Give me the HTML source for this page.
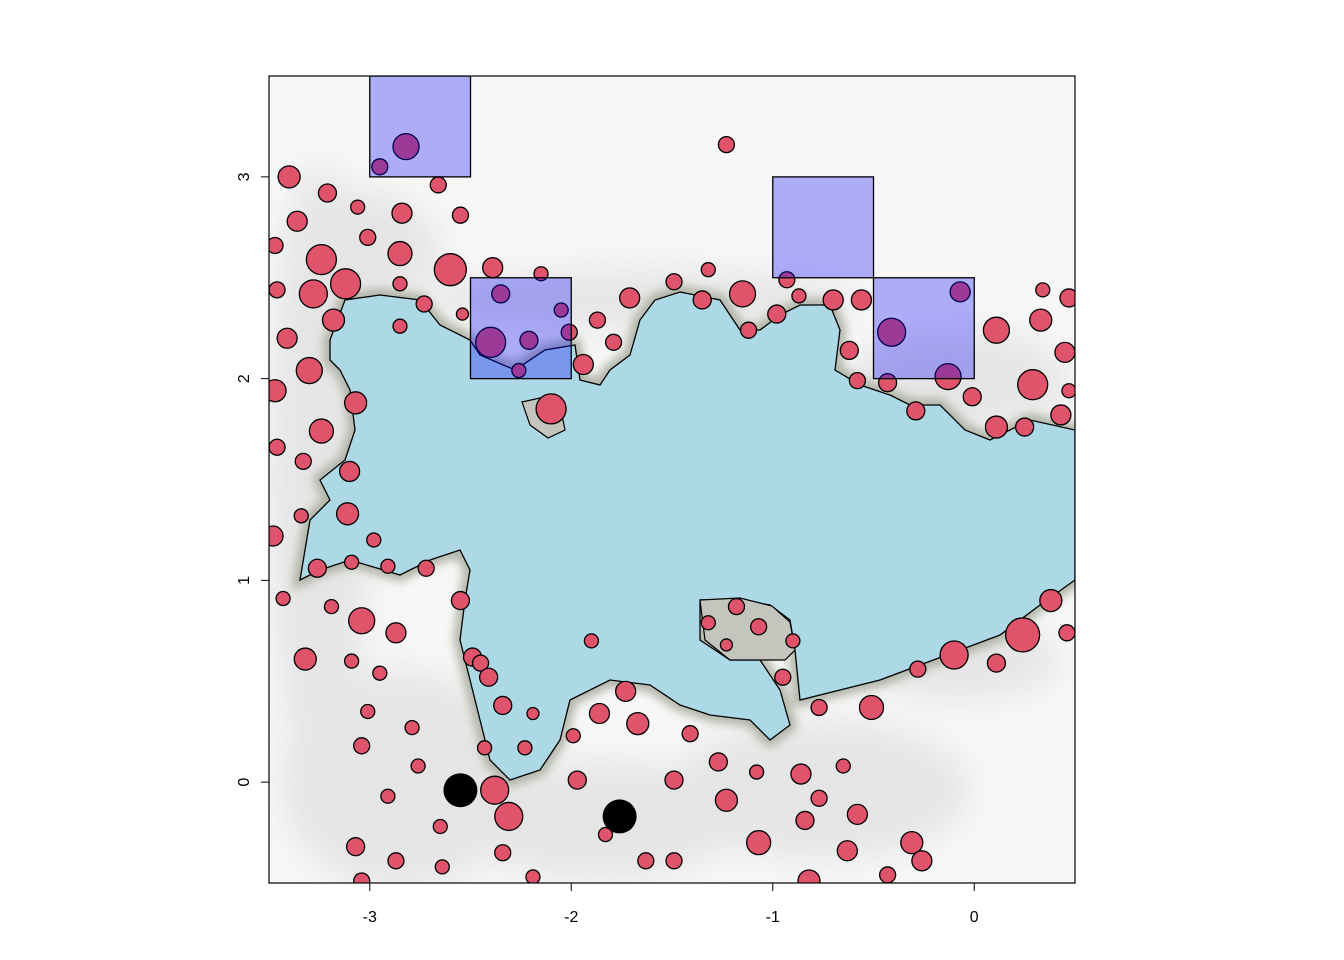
<!DOCTYPE html>
<html><head><meta charset="utf-8">
<style>
html,body{margin:0;padding:0;background:#fff;}
svg{display:block;font-family:"Liberation Sans",sans-serif;}
</style></head>
<body>
<svg id="chart" width="1344" height="960" xmlns="http://www.w3.org/2000/svg">
<defs>
<clipPath id="plotclip"><rect x="269" y="76" width="806" height="807"/></clipPath>
<filter id="blur1" x="-20%" y="-20%" width="140%" height="140%"><feGaussianBlur stdDeviation="16"/></filter>
<filter id="blur2" x="-20%" y="-20%" width="140%" height="140%"><feGaussianBlur stdDeviation="5"/></filter>
</defs>
<rect x="269" y="76" width="806" height="807" fill="#f7f7f7"/>
<g id="terrain" clip-path="url(#plotclip)">
  <g filter="url(#blur1)" fill="#dadada" opacity="0.6">
    <ellipse cx="320" cy="480" rx="50" ry="320"/>
    <ellipse cx="400" cy="780" rx="120" ry="110"/>
    <ellipse cx="600" cy="820" rx="140" ry="60"/>
    <ellipse cx="820" cy="790" rx="150" ry="70"/>
    <ellipse cx="640" cy="300" rx="220" ry="30"/>
    <ellipse cx="960" cy="380" rx="110" ry="50"/>
    <ellipse cx="360" cy="250" rx="80" ry="60"/>
    <ellipse cx="960" cy="660" rx="100" ry="40"/>
  </g>
  <path id="lake-shadow" filter="url(#blur2)" fill="none" stroke="#a9ad9f" stroke-width="12" d=""/>
  <path id="lake" fill="#add8e6" stroke="#000" stroke-width="1.3" d=""/>
  <path d="M522,402 L540,398 L560,405 L565,430 L548,438 L530,425 Z" fill="#c4c6bd" stroke="#000" stroke-width="1.2"/>
  <path d="M700,600 L740,598 L772,606 L790,622 L795,650 L785,660 L760,660 L730,660 L705,640 Z" fill="#c4c6bd" stroke="#000" stroke-width="1.2"/>
  <g id="points"></g>
  <g id="boxes"></g>
</g>
<rect x="269" y="76" width="806" height="807" fill="none" stroke="#000" stroke-width="1.2"/>
<g id="axes"></g>
</svg>
<script>
const xTicks=[-3,-2,-1,0];
const yTicks=[0,1,2,3];
const ptX=[-3.40,-3.21,-3.06,-3.36,-2.84,-2.55,-2.66,-2.95,-2.82,-3.47,-3.01,-2.85,-3.24,-3.12,-2.60,-3.28,-3.46,-2.85,-3.18,-3.41,-2.85,-2.73,-2.54,-2.39,-2.15,-2.35,-2.05,-2.01,-2.40,-2.21,-2.26,-1.94,-1.87,-1.79,-1.71,-2.10,-3.30,-3.07,-3.47,-3.46,-3.24,-3.33,-3.10,-3.34,-3.11,-2.98,-3.48,-3.09,-3.26,-2.91,-2.72,-2.55,-3.43,-3.19,-3.04,-2.87,-3.32,-3.09,-2.95,-2.49,-2.45,-2.41,-2.34,-2.19,-3.01,-2.79,-2.43,-2.23,-1.99,-1.86,-1.73,-1.67,-3.04,-2.76,-2.38,-2.31,-1.97,-1.83,-2.91,-2.65,-1.49,-1.23,-1.27,-1.41,-1.08,-0.86,-0.77,-0.84,-0.65,-0.58,-1.07,-0.63,-0.77,-0.51,-0.31,-0.26,-0.43,-0.82,-1.63,-1.49,-2.19,-2.34,-2.64,-2.87,-3.07,-3.04,-1.23,-1.32,-1.49,-1.35,-1.15,-1.12,-0.98,-0.93,-0.87,-0.70,-0.56,-0.62,-0.41,-0.58,-0.43,-0.29,-0.13,-0.01,0.11,0.25,0.34,0.47,0.33,0.11,0.45,0.29,0.47,0.43,-0.07,0.38,0.24,0.46,0.11,-0.10,-0.28,-1.18,-1.32,-1.07,-1.23,-0.90,-0.95,-1.90];
const ptY=[3.00,2.92,2.85,2.78,2.82,2.81,2.96,3.05,3.15,2.66,2.70,2.62,2.59,2.47,2.54,2.42,2.44,2.47,2.29,2.20,2.26,2.37,2.32,2.55,2.52,2.42,2.34,2.23,2.18,2.19,2.04,2.07,2.29,2.18,2.40,1.85,2.04,1.88,1.94,1.66,1.74,1.59,1.54,1.32,1.33,1.20,1.22,1.09,1.06,1.07,1.06,0.90,0.91,0.87,0.80,0.74,0.61,0.60,0.54,0.62,0.59,0.52,0.38,0.34,0.35,0.27,0.17,0.17,0.23,0.34,0.45,0.29,0.18,0.08,-0.04,-0.17,0.01,-0.26,-0.07,-0.22,0.01,-0.09,0.10,0.24,0.05,0.04,-0.08,-0.19,0.08,-0.16,-0.30,-0.34,0.37,0.37,-0.30,-0.39,-0.46,-0.49,-0.39,-0.39,-0.47,-0.35,-0.42,-0.39,-0.32,-0.49,3.16,2.54,2.48,2.39,2.42,2.24,2.32,2.49,2.41,2.39,2.39,2.14,2.23,1.99,1.98,1.84,2.01,1.91,1.76,1.76,2.44,2.40,2.29,2.24,2.13,1.97,1.94,1.82,2.43,0.90,0.73,0.74,0.59,0.63,0.56,0.87,0.79,0.77,0.68,0.70,0.52,0.70];
const ptSize=[11,9,7,10,10,8,8,8,13,8,8,12,15,15,16,14,8,7,11,10,7,8,6,10,7,9,7,8,15,9,7,10,8,8,10,15,13,11,11,8,12,8,10,7,11,7,10,7,9,7,8,9,7,7,13,10,11,7,7,9,8,9,9,6,7,7,7,7,7,10,10,11,8,7,14,14,9,7,7,7,9,11,9,8,7,10,8,9,7,10,12,10,8,12,11,10,8,11,8,8,7,8,7,8,9,8,8,7,8,9,13,8,9,8,7,10,10,9,14,8,9,9,13,9,11,9,7,9,11,13,10,15,7,10,10,11,17,8,9,14,8,8,7,8,6,7,8,7];
const blackX=[-2.55,-1.76];
const blackY=[-0.04,-0.17];
const blackSize=[17,17];
const boxX0=[-3,-2.5,-1,-0.5];
const boxY0=[3,2,2.5,2];
const boxW=[0.5,0.5,0.5,0.5];
const boxH=[0.5,0.5,0.5,0.5];

const X0=-3.5,X1=0.5,Y0=-0.5,Y1=3.5,L=269,R=1075,T=76,B=883;
const sx=v=>L+(v-X0)/(X1-X0)*(R-L);
const sy=v=>B-(v-Y0)/(Y1-Y0)*(B-T);
const NS="http://www.w3.org/2000/svg";

const lakeD="M330,340 L345,300 L380,295 L420,300 L440,325 L470,340 L480,355 L515,370 L545,350 L575,345 L580,380 L600,385 L610,370 L630,355 L640,320 L655,300 L680,292 L720,300 L740,330 L760,330 L780,315 L800,305 L830,305 L840,330 L835,370 L860,385 L890,395 L910,405 L940,405 L965,430 L990,440 L1030,420 L1075,430 L1075,580 L1040,605 L1000,635 L960,650 L920,665 L880,680 L840,690 L800,700 L795,650 L790,620 L770,605 L740,600 L700,600 L700,640 L730,660 L760,660 L780,690 L790,725 L770,740 L750,720 L710,715 L680,705 L650,685 L610,680 L570,700 L560,740 L540,770 L510,780 L490,760 L480,720 L470,680 L460,640 L465,600 L470,570 L460,550 L430,560 L400,575 L350,560 L320,570 L300,580 L310,520 L330,500 L320,480 L345,460 L355,430 L350,390 L340,370 L330,360 Z";
document.getElementById('lake').setAttribute('d',lakeD);
document.getElementById('lake-shadow').setAttribute('d',lakeD);

const gp=document.getElementById('points');
for(let i=0;i<ptX.length;i++){
  const c=document.createElementNS(NS,'circle');
  c.setAttribute('cx',sx(ptX[i]));c.setAttribute('cy',sy(ptY[i]));c.setAttribute('r',ptSize[i]);
  c.setAttribute('fill','#df536b');c.setAttribute('stroke','#000');c.setAttribute('stroke-width','1.3');
  
  
  gp.appendChild(c);
}
for(let i=0;i<blackX.length;i++){
  const c=document.createElementNS(NS,'circle');
  c.setAttribute('cx',sx(blackX[i]));c.setAttribute('cy',sy(blackY[i]));c.setAttribute('r',blackSize[i]);
  c.setAttribute('fill','#000');
  
  
  gp.appendChild(c);
}
const gb=document.getElementById('boxes');
for(let i=0;i<boxX0.length;i++){
  const r=document.createElementNS(NS,'rect');
  const x=sx(boxX0[i]),y=sy(boxY0[i]+boxH[i]);
  r.setAttribute('x',x);r.setAttribute('y',y);
  r.setAttribute('width',sx(boxX0[i]+boxW[i])-x);r.setAttribute('height',sy(boxY0[i])-y);
  r.setAttribute('fill','rgba(0,0,255,0.3)');r.setAttribute('stroke','#000');r.setAttribute('stroke-width','1.3');
  
  
  gb.appendChild(r);
}
const ga=document.getElementById('axes');
xTicks.forEach(v=>{
  const x=sx(v);
  const l=document.createElementNS(NS,'line');
  l.setAttribute('x1',x);l.setAttribute('x2',x);l.setAttribute('y1',B);l.setAttribute('y2',B+8);l.setAttribute('stroke','#000');
  
  
  ga.appendChild(l);
  const t=document.createElementNS(NS,'text');
  t.setAttribute('x',x);t.setAttribute('y',922);t.setAttribute('text-anchor','middle');t.setAttribute('font-size','16');
  t.textContent=v;
  
  
  ga.appendChild(t);
});
yTicks.forEach(v=>{
  const y=sy(v);
  const l=document.createElementNS(NS,'line');
  l.setAttribute('x1',L-8);l.setAttribute('x2',L);l.setAttribute('y1',y);l.setAttribute('y2',y);l.setAttribute('stroke','#000');
  
  
  ga.appendChild(l);
  const t=document.createElementNS(NS,'text');
  t.setAttribute('x',249);t.setAttribute('y',y);t.setAttribute('text-anchor','middle');t.setAttribute('font-size','16');
  t.setAttribute('transform','rotate(-90 249 '+y+')');
  t.textContent=v;
  
  
  ga.appendChild(t);
});
</script>
</body></html>
